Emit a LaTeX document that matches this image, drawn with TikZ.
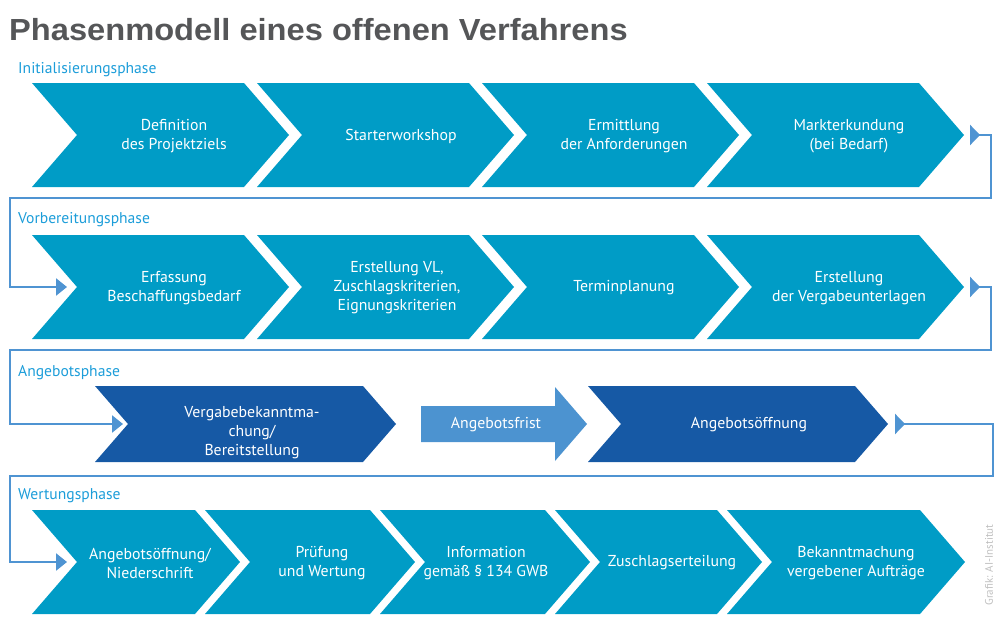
\documentclass[tikz,border=0pt]{standalone}
\usepackage{fontspec}
\setmainfont{PT Sans}
\newfontfamily\titlefont{Liberation Sans}
\usetikzlibrary{arrows.meta,calc}

\definecolor{stagecyan}{HTML}{009CC6}
\definecolor{stagedark}{HTML}{1659A5}
\definecolor{fristblue}{HTML}{4C93D0}
\definecolor{linkblue}{HTML}{4F94D2}
\definecolor{phasecyan}{HTML}{1C9DD9}
\definecolor{titlegray}{HTML}{555658}

% chevron: name, left x, top y, width, height, depth, fill
\newcommand{\chevron}[7]{%
  \fill[#7] (#2,#3) -- ++(#4,0) -- ++(#6,#5/2) -- ++(-#6,#5/2) -- ++(-#4,0) -- ++(#6,-#5/2) -- cycle;
  \coordinate (#1-tip) at (#2+#4+#6,#3+#5/2);
  \coordinate (#1-notch) at (#2+#6,#3+#5/2);}

\begin{document}
\begin{tikzpicture}[
        x=1pt, y=-1pt,
        stage/.style={text=white, align=center, inner sep=0pt, font=\fontsize{15.8}{19}\selectfont},
        phase/.style={anchor=base west, inner sep=0pt, text=phasecyan, font=\fontsize{15.6}{18}\selectfont},
        link/.style={draw=linkblue, line width=2.5pt, {Triangle[reversed,length=10pt,width=20pt]}-{Triangle[length=11pt,width=17pt]}}
      ]
        \useasboundingbox (0,0) rectangle (1000,621);

        % Title
        \node[anchor=base west, inner sep=0pt, text=titlegray, font=\titlefont\bfseries\fontsize{30.5}{36}\selectfont] (title) at (9,40) {\scalebox{1.07}[1]{Phasenmodell eines offenen Verfahrens}};

        % Initialisierungsphase
        \node[phase] (ph1) at (18,73) {Initialisierungsphase};
        \chevron{r1a}{32}{83}{212}{104}{45}{stagecyan}
        \chevron{r1b}{257}{83}{212}{104}{45}{stagecyan}
        \chevron{r1c}{482}{83}{212}{104}{45}{stagecyan}
        \chevron{r1d}{707}{83}{212}{104}{45}{stagecyan}
        \node[stage] (ziel) at (174,136) {Definition\\des Projektziels};
        \node[stage] (workshop) at (401,136) {Starterworkshop};
        \node[stage] (anford) at (624,136) {Ermittlung\\der Anforderungen};
        \node[stage] (markt) at (849,136) {Markterkundung\\(bei Bedarf)};

        % Vorbereitungsphase
        \node[phase] (ph2) at (18,223) {Vorbereitungsphase};
        \chevron{r2a}{32}{235}{212}{104}{45}{stagecyan}
        \chevron{r2b}{257}{235}{212}{104}{45}{stagecyan}
        \chevron{r2c}{482}{235}{212}{104}{45}{stagecyan}
        \chevron{r2d}{707}{235}{212}{104}{45}{stagecyan}
        \node[stage] (bedarf) at (174,288) {Erfassung\\Beschaffungsbedarf};
        \node[stage] (kriterien) at (397,288) {Erstellung VL,\\Zuschlagskriterien,\\Eignungskriterien};
        \node[stage] (termin) at (624,288) {Terminplanung};
        \node[stage] (unterlagen) at (849,288) {Erstellung\\der Vergabeunterlagen};

        % Angebotsphase
        \node[phase] (ph3) at (18,376) {Angebotsphase};
        \chevron{r3a}{95}{386}{268}{76}{33}{stagedark}
        \chevron{r3b}{588}{386}{267}{76}{33}{stagedark}
        \fill[fristblue] (421,406) -- (555,406) -- (555,387) -- (587,424) -- (555,461) -- (555,442) -- (421,442) -- cycle;
        \node[stage] (bekannt) at (252,433) {Vergabebekanntma-\\chung/\\Bereitstellung};
        \node[stage] (frist) at (496,425) {Angebotsfrist};
        \node[stage] (oeffnung) at (749,425) {Angebotsöffnung};

        % Wertungsphase
        \node[phase] (ph4) at (18,499) {Wertungsphase};
        \chevron{r4a}{32}{510}{163}{104}{45}{stagecyan}
        \chevron{r4b}{205}{510}{165}{104}{45}{stagecyan}
        \chevron{r4c}{380}{510}{165}{104}{45}{stagecyan}
        \chevron{r4d}{555}{510}{162}{104}{45}{stagecyan}
        \chevron{r4e}{727}{510}{193}{104}{45}{stagecyan}
        \node[stage] (nieder) at (150,563) {Angebotsöffnung/\\Niederschrift};
        \node[stage] (pruefung) at (322,563) {Prüfung\\und Wertung};
        \node[stage] (info) at (486,563) {Information\\gemäß § 134 GWB};
        \node[stage] (zuschlag) at (672,563) {Zuschlagserteilung};
        \node[stage] (auftraege) at (856,563) {Bekanntmachung\\vergebener Aufträge};

        % Connectors between the phases
        \draw[link] ([xshift=6pt]r1d-tip) -- ++(21,0) -- ++(0,63) -| ([xshift=-67pt]r2a-notch) -- ([xshift=-10pt]r2a-notch);
        \draw[link] ([xshift=6pt]r2d-tip) -- ++(21,0) -- ++(0,63) -| ([xshift=-118pt]r3a-notch) -- ([xshift=-5pt]r3a-notch);
        \draw[link] ([xshift=7pt]r3b-tip) -- ++(98,0) -- ++(0,52) -| ([xshift=-67pt]r4a-notch) -- ([xshift=-10pt]r4a-notch);

        % Credit
        \node[rotate=90, inner sep=0pt, text=gray!50, font=\fontsize{11}{13}\selectfont] (credit) at (989,565) {Grafik: AI-Institut};
      \end{tikzpicture}
\end{document}
